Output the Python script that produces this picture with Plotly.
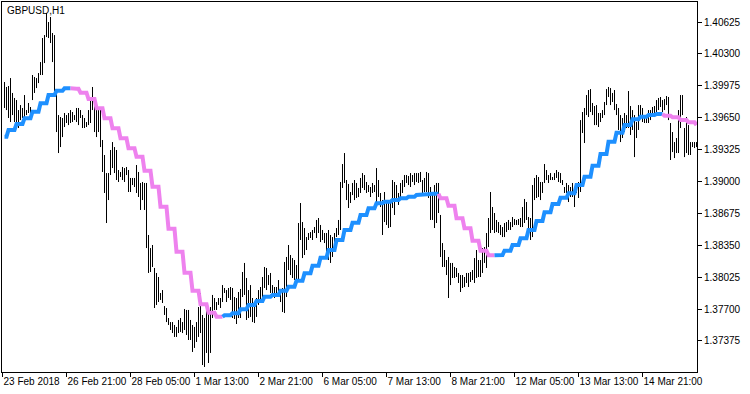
import plotly.graph_objects as go

symbol = "GBPUSD,H1"

highs = [
    1.40014, 1.39963, 1.39973, 1.40054, 1.39902, 1.39851, 1.39830, 1.39728, 1.39779, 1.39749,
    1.39881, 1.39728, 1.39800, 1.39759, 1.40085, 1.40065, 1.40054, 1.40105, 1.40217, 1.40462,
    1.40492, 1.40717, 1.40625, 1.40676, 1.40513, 1.40492, 1.39932, 1.39677, 1.39657, 1.39647,
    1.39698, 1.39677, 1.39698, 1.39728, 1.39708, 1.39677, 1.39749, 1.39749, 1.39728, 1.39677,
    1.39647, 1.39606, 1.39728, 1.39861, 1.39963, 1.39830, 1.39759, 1.39728, 1.39749, 1.39423,
    1.39270, 1.39086, 1.39086, 1.39321, 1.39402, 1.39351, 1.39321, 1.39117, 1.39097, 1.39148,
    1.39137, 1.39148, 1.39117, 1.39036, 1.39036, 1.39036, 1.39168, 1.39097, 1.38985, 1.38995,
    1.38985, 1.38985, 1.38455, 1.38322, 1.38353, 1.38119, 1.38068, 1.38027, 1.37864, 1.37894,
    1.37731, 1.37711, 1.37609, 1.37568, 1.37568, 1.37538, 1.37518, 1.37589, 1.37609, 1.37568,
    1.37701, 1.37691, 1.37691, 1.37589, 1.37538, 1.37518, 1.37568, 1.37721, 1.37864, 1.37640,
    1.37609, 1.37721, 1.37711, 1.37721, 1.37844, 1.37813, 1.37772, 1.37813, 1.37813, 1.37945,
    1.37915, 1.37894, 1.37915, 1.37925, 1.37915, 1.37823, 1.37813, 1.37874, 1.37905, 1.38078,
    1.38170, 1.38017, 1.37894, 1.37945, 1.37813, 1.37772, 1.37813, 1.37894, 1.37925, 1.38027,
    1.38129, 1.38119, 1.38047, 1.38068, 1.37945, 1.37925, 1.37925, 1.37996, 1.37874, 1.37915,
    1.38180, 1.38231, 1.38353, 1.38251, 1.38220, 1.38200, 1.38149, 1.38577, 1.38781, 1.38587,
    1.38526, 1.38434, 1.38475, 1.38485, 1.38506, 1.38536, 1.38608, 1.38628, 1.38557, 1.38506,
    1.38475, 1.38475, 1.38506, 1.38455, 1.38434, 1.38475, 1.38526, 1.38608, 1.38995, 1.39178,
    1.39290, 1.39015, 1.38975, 1.38893, 1.38985, 1.39015, 1.38985, 1.38934, 1.39036, 1.39086,
    1.39066, 1.38995, 1.38964, 1.38944, 1.38985, 1.38964, 1.39137, 1.39015, 1.38883, 1.38811,
    1.38893, 1.38811, 1.38781, 1.38811, 1.39015, 1.38995, 1.38964, 1.38883, 1.38985, 1.39015,
    1.39066, 1.39066, 1.39056, 1.39086, 1.39066, 1.39086, 1.39086, 1.39086, 1.39097, 1.39015,
    1.39036, 1.39097, 1.39086, 1.38944, 1.38893, 1.38964, 1.38985, 1.38985, 1.38659, 1.38373,
    1.38302, 1.38200, 1.38231, 1.38170, 1.38170, 1.38129, 1.38119, 1.38068, 1.38047, 1.38047,
    1.38027, 1.38068, 1.38068, 1.38078, 1.38098, 1.38220, 1.38302, 1.38200, 1.38200, 1.38322,
    1.38332, 1.38475, 1.38628, 1.38893, 1.38740, 1.38679, 1.38608, 1.38587, 1.38557, 1.38536,
    1.38577, 1.38587, 1.38608, 1.38587, 1.38638, 1.38618, 1.38608, 1.38618, 1.38628, 1.38740,
    1.38822, 1.38791, 1.38638, 1.38628, 1.38964, 1.39036, 1.39066, 1.39046, 1.38995, 1.38995,
    1.39178, 1.39117, 1.39066, 1.39086, 1.39046, 1.39086, 1.39117, 1.39097, 1.39086, 1.39015,
    1.38944, 1.38985, 1.38964, 1.38944, 1.38985, 1.38934, 1.38985, 1.38995, 1.39626, 1.39708,
    1.39749, 1.39881, 1.39932, 1.39942, 1.39800, 1.39769, 1.39779, 1.39698, 1.39698, 1.39728,
    1.39810, 1.39942, 1.39963, 1.39952, 1.39902, 1.39932, 1.39790, 1.39749, 1.39677, 1.39647,
    1.39698, 1.39677, 1.39922, 1.39769, 1.39728, 1.39677, 1.39606, 1.39779, 1.39779, 1.39749,
    1.39677, 1.39677, 1.39728, 1.39728, 1.39759, 1.39769, 1.39830, 1.39851, 1.39861, 1.39830,
    1.39840, 1.39871, 1.39861, 1.39596, 1.39504, 1.39402, 1.39443, 1.39728, 1.39881, 1.39881,
    1.39545, 1.39657, 1.39575, 1.39402, 1.39402, 1.39402, 1.39402,
]

lows = [
    1.39749, 1.39728, 1.39647, 1.39606, 1.39677, 1.39606, 1.39596, 1.39545, 1.39626, 1.39647,
    1.39657, 1.39677, 1.39698, 1.39647, 1.39830, 1.39902, 1.39952, 1.40003, 1.40085, 1.40085,
    1.40207, 1.40472, 1.40462, 1.40411, 1.40217, 1.39881, 1.39504, 1.39290, 1.39351, 1.39453,
    1.39555, 1.39596, 1.39575, 1.39596, 1.39606, 1.39626, 1.39606, 1.39575, 1.39647, 1.39545,
    1.39545, 1.39555, 1.39575, 1.39596, 1.39728, 1.39504, 1.39453, 1.39504, 1.39351, 1.39097,
    1.38883, 1.38577, 1.38811, 1.39066, 1.39137, 1.39086, 1.39015, 1.38995, 1.39046, 1.39015,
    1.38995, 1.39066, 1.38893, 1.38893, 1.38964, 1.38944, 1.38883, 1.38842, 1.38710, 1.38811,
    1.38710, 1.38322, 1.38068, 1.38078, 1.38129, 1.37711, 1.37742, 1.37772, 1.37793, 1.37762,
    1.37640, 1.37568, 1.37538, 1.37487, 1.37456, 1.37416, 1.37416, 1.37456, 1.37467, 1.37456,
    1.37487, 1.37436, 1.37385, 1.37385, 1.37263, 1.37304, 1.37365, 1.37416, 1.37456, 1.37130,
    1.37110, 1.37253, 1.37151, 1.37253, 1.37609, 1.37691, 1.37691, 1.37742, 1.37711, 1.37772,
    1.37864, 1.37772, 1.37813, 1.37793, 1.37609, 1.37599, 1.37548, 1.37609, 1.37609, 1.37823,
    1.37844, 1.37589, 1.37609, 1.37620, 1.37568, 1.37558, 1.37620, 1.37742, 1.37772, 1.37823,
    1.37915, 1.37894, 1.37945, 1.37864, 1.37844, 1.37813, 1.37823, 1.37864, 1.37772, 1.37670,
    1.37660, 1.37823, 1.38098, 1.38047, 1.38017, 1.37996, 1.37945, 1.37996, 1.38404, 1.38220,
    1.38251, 1.38302, 1.38404, 1.38424, 1.38404, 1.38475, 1.38424, 1.38475, 1.38383, 1.38404,
    1.38373, 1.38251, 1.38200, 1.38170, 1.38231, 1.38353, 1.38434, 1.38455, 1.38506, 1.38934,
    1.38985, 1.38811, 1.38730, 1.38781, 1.38862, 1.38811, 1.38832, 1.38842, 1.38883, 1.38934,
    1.38913, 1.38883, 1.38893, 1.38842, 1.38883, 1.38893, 1.38791, 1.38842, 1.38740, 1.38455,
    1.38587, 1.38557, 1.38526, 1.38536, 1.38730, 1.38659, 1.38811, 1.38761, 1.38842, 1.38883,
    1.38944, 1.38985, 1.38964, 1.38944, 1.38995, 1.38964, 1.38995, 1.38985, 1.38995, 1.38883,
    1.38893, 1.38893, 1.38832, 1.38608, 1.38608, 1.38526, 1.38577, 1.38679, 1.38231, 1.38129,
    1.38129, 1.38047, 1.37813, 1.37945, 1.38017, 1.38017, 1.38027, 1.37966, 1.37874, 1.37915,
    1.37925, 1.37966, 1.37925, 1.37976, 1.37996, 1.37966, 1.38017, 1.38027, 1.38027, 1.38068,
    1.38170, 1.38119, 1.38332, 1.38475, 1.38506, 1.38475, 1.38485, 1.38475, 1.38455, 1.38434,
    1.38434, 1.38485, 1.38506, 1.38506, 1.38536, 1.38557, 1.38557, 1.38557, 1.38536, 1.38536,
    1.38577, 1.38608, 1.38506, 1.38404, 1.38434, 1.38811, 1.38832, 1.38842, 1.38811, 1.38883,
    1.38985, 1.39015, 1.38985, 1.39015, 1.39015, 1.39015, 1.39036, 1.38995, 1.38985, 1.38964,
    1.38883, 1.38883, 1.38791, 1.38842, 1.38842, 1.38740, 1.38883, 1.38832, 1.38893, 1.39494,
    1.39392, 1.39677, 1.39657, 1.39708, 1.39677, 1.39575, 1.39575, 1.39555, 1.39606, 1.39647,
    1.39677, 1.39779, 1.39861, 1.39779, 1.39810, 1.39728, 1.39677, 1.39525, 1.39402, 1.39443,
    1.39504, 1.39545, 1.39545, 1.39474, 1.39525, 1.39249, 1.39443, 1.39525, 1.39677, 1.39606,
    1.39596, 1.39596, 1.39596, 1.39626, 1.39657, 1.39657, 1.39698, 1.39728, 1.39759, 1.39708,
    1.39728, 1.39779, 1.39626, 1.39219, 1.39300, 1.39239, 1.39290, 1.39290, 1.39545, 1.39677,
    1.39249, 1.39290, 1.39270, 1.39270, 1.39351, 1.39341, 1.39351,
]

# H4 moving average, one value per H4 block (first block covers 2 H1 bars)
ma_h4 = [
    1.39456, 1.39525, 1.39586, 1.39644, 1.39711, 1.39797, 1.39881, 1.39925, 1.39949, 1.39945,
    1.39905, 1.39840, 1.39746, 1.39644, 1.39542, 1.39440, 1.39338, 1.39253, 1.39110, 1.38947,
    1.38743, 1.38519, 1.38285, 1.38071, 1.37887, 1.37749, 1.37663, 1.37622, 1.37637, 1.37657,
    1.37698, 1.37742, 1.37783, 1.37826, 1.37844, 1.37887, 1.37928, 1.37989, 1.38064, 1.38142,
    1.38224, 1.38302, 1.38404, 1.38506, 1.38580, 1.38659, 1.38727, 1.38778, 1.38794, 1.38811,
    1.38829, 1.38845, 1.38862, 1.38872, 1.38876, 1.38829, 1.38753, 1.38625, 1.38523, 1.38397,
    1.38295, 1.38248, 1.38251, 1.38295, 1.38353, 1.38421, 1.38506, 1.38597, 1.38686, 1.38771,
    1.38835, 1.38880, 1.38964, 1.39049, 1.39161, 1.39280, 1.39405, 1.39497, 1.39575, 1.39634,
    1.39660, 1.39677, 1.39688, 1.39670, 1.39654, 1.39626, 1.39603, 1.39575,
]

tick_bars = [-1, 31, 63, 95, 127, 159, 191, 223, 255, 287, 319]
tick_labels = ["23 Feb 2018", "26 Feb 21:00", "28 Feb 05:00", "1 Mar 13:00", "2 Mar 21:00",
               "6 Mar 05:00", "7 Mar 13:00", "8 Mar 21:00", "12 Mar 05:00", "13 Mar 13:00",
               "14 Mar 21:00"]
price_ticks = [1.37375, 1.37700, 1.38025, 1.38350, 1.38675, 1.39000,
               1.39325, 1.39650, 1.39975, 1.40300, 1.40625]

BLUE = "#1E90FF"
VIOLET = "#EE82EE"

n = len(highs)
fig = go.Figure()

# price bars (high-low)
bx, by = [], []
for i, (h, l) in enumerate(zip(highs, lows)):
    bx += [i, i, None]
    by += [l, h, None]
fig.add_trace(go.Scatter(x=bx, y=by, mode="lines", line=dict(color="black", width=1),
                         hoverinfo="skip", showlegend=False))

# moving average expanded to H1 bars, coloured by direction
grp = [(i + 2) // 4 for i in range(n)]
ma = [ma_h4[g] for g in grp]
gcol = [BLUE if (g == 0 or ma_h4[g] >= ma_h4[g - 1]) else VIOLET for g in range(len(ma_h4))]
col = [gcol[g] for g in grp]

start = 0
for i in range(1, n + 1):
    if i == n or col[i] != col[start]:
        a = max(start - 1, 0)
        fig.add_trace(go.Scatter(x=list(range(a, i)), y=ma[a:i], mode="lines",
                                 line=dict(color=col[start], width=4),
                                 hoverinfo="skip", showlegend=False))
        start = i

fig.add_annotation(text=symbol, xref="paper", yref="paper", x=0, y=1,
                   xanchor="left", yanchor="top", xshift=3, yshift=-1,
                   showarrow=False, font=dict(size=10, color="black"))

fig.update_layout(
    width=750, height=394,
    margin=dict(l=2, r=53, t=2, b=22, pad=0),
    plot_bgcolor="white", paper_bgcolor="white",
    showlegend=False,
    font=dict(family="Liberation Sans, Arial, sans-serif", size=10, color="black"),
)
fig.update_xaxes(
    range=[-1.25, 346.25], tickvals=tick_bars, ticktext=tick_labels,
    ticks="outside", ticklen=4, tickcolor="black", tickwidth=1,
    ticklabelposition="outside right", tickangle=0, automargin=False,
    showgrid=False, zeroline=False,
    showline=True, linecolor="black", linewidth=1, mirror=True,
)
fig.update_yaxes(
    side="right", range=[1.37059, 1.40829],
    tickvals=price_ticks, ticktext=[f"{v:.5f}" for v in price_ticks],
    ticks="outside", ticklen=4, tickcolor="black", tickwidth=1,
    automargin=False, ticklabelstandoff=0,
    showgrid=False, zeroline=False,
    showline=True, linecolor="black", linewidth=1, mirror=True,
)

fig.write_html("out.html", config={"displayModeBar": False},
               post_script="document.body.style.margin='0';document.body.style.padding='0';")
